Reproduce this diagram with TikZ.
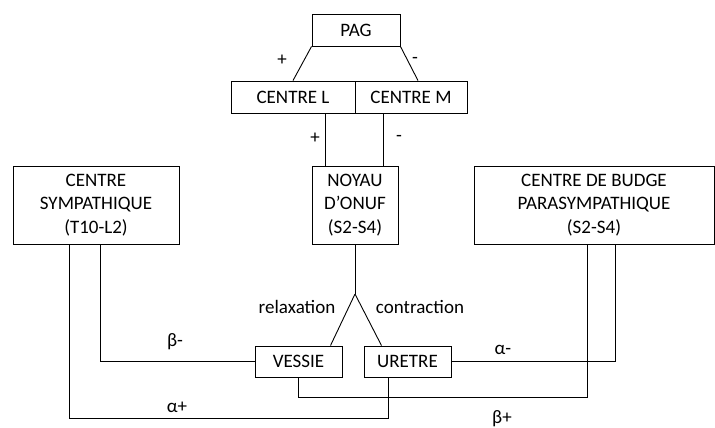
\documentclass[tikz,border=0pt]{standalone}
\usepackage{fontspec}
\setmainfont{Carlito}
\begin{document}
\begin{tikzpicture}[x=1pt,y=-1pt,line width=0.9pt,
		boite/.style={draw,rectangle,align=center,inner sep=0pt,font=\fontsize{19}{23.5}\selectfont},
		etiq/.style={inner sep=0pt,font=\fontsize{19}{23}\selectfont}]
				\useasboundingbox (0,0) rectangle (715,428);
				\node[boite,minimum width=88pt,minimum height=32pt] (pag) at (356,30) {PAG};
				\node[boite,minimum width=124pt,minimum height=32pt] (cl) at (293,97) {CENTRE L};
				\node[boite,minimum width=112pt,minimum height=32pt] (cm) at (411,97) {CENTRE M};
				\draw (pag.south west) -- (cl.north);
				\draw (pag.south east) -- ([xshift=7pt]cm.north);
				\node[etiq] (p1) at (282,60) {+};
				\node[etiq] (m1) at (415,60) {-};
				%--
				\node[boite,minimum width=86pt,minimum height=78pt] (noyau) at (355,205) {NOYAU\\D’ONUF\\(S2-S4)};
				\draw ([xshift=32pt]cl.south) -- ([xshift=-30pt]noyau.north);
				\draw ([xshift=-28pt]cm.south) -- ([xshift=28pt]noyau.north);
				\node[etiq] (p2) at (315,138) {+};
				\node[etiq] (m2) at (399,138) {-};
				%--
				\node[boite,minimum width=166pt,minimum height=78pt] (sym) at (96,205) {CENTRE\\SYMPATHIQUE\\(T10-L2)};
				\node[boite,minimum width=240pt,minimum height=78pt] (budge) at (594,205) {CENTRE DE BUDGE\\PARASYMPATHIQUE\\(S2-S4)};
				%--
				\node[boite,minimum width=87pt,minimum height=31pt] (vessie) at (298.5,361.5) {VESSIE};
				\node[boite,minimum width=87pt,minimum height=31pt] (uretre) at (407.5,361.5) {URETRE};
				\coordinate (fourche) at (355,294);
				\draw (noyau.south) -- (fourche);
				\draw (fourche) -- ([xshift=32pt]vessie.north);
				\draw (fourche) -- ([xshift=-26pt]uretre.north);
				\node[etiq] (relax) at (297,307) {relaxation};
				\node[etiq] (contr) at (420,307) {contraction};
				%--
				\draw ([xshift=4pt]sym.south) |- (vessie.west);
				\draw ([xshift=-27pt]sym.south) |- ([xshift=-19pt,yshift=-41pt]uretre.south) -- ([xshift=-19pt]uretre.south);
				\draw ([xshift=21pt]budge.south) |- (uretre.east);
				\draw ([xshift=-7pt]budge.south) |- ([yshift=-20pt]vessie.south) -- (vessie.south);
				\node[etiq] (bm) at (175,342) {β-};
				\node[etiq] (ap) at (177,407) {α+};
				\node[etiq] (am) at (503,350) {α-};
				\node[etiq] (bp) at (502,419) {β+};
			\end{tikzpicture}
\end{document}
